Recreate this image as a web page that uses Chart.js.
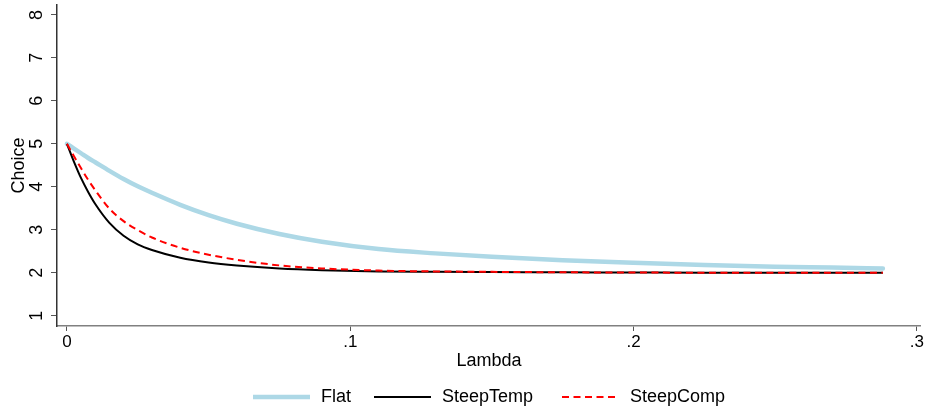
<!DOCTYPE html>
<html>
<head>
<meta charset="utf-8">
<script src="https://cdn.jsdelivr.net/npm/chart.js@4.4.1/dist/chart.umd.min.js"></script>
<style>
  html, body { margin: 0; padding: 0; background: #fff; }
  #wrap { width: 925px; height: 408px; position: relative; }
</style>
</head>
<body>
<div id="wrap"><canvas id="myChart"></canvas></div>
<script>
// lambda values (x) and the three choice curves
const lambda = [0, 0.0025, 0.005, 0.0075, 0.01, 0.015, 0.02, 0.025, 0.03, 0.04, 0.05, 0.06,
                0.075, 0.09, 0.11, 0.13, 0.15, 0.175, 0.2, 0.225, 0.25, 0.27, 0.288];
const flat = [5.00, 4.89, 4.78, 4.67, 4.57, 4.37, 4.18, 4.01, 3.86, 3.58, 3.34, 3.14,
              2.90, 2.72, 2.55, 2.45, 2.37, 2.29, 2.23, 2.18, 2.14, 2.12, 2.10];
const steepTemp = [5.00, 4.58, 4.20, 3.88, 3.60, 3.16, 2.86, 2.66, 2.53, 2.35, 2.24, 2.17,
                   2.10, 2.06, 2.03, 2.02, 2.015, 2.01, 2.005, 2.0, 2.0, 2.0, 2.0];
const steepComp = [5.00, 4.71, 4.43, 4.16, 3.92, 3.49, 3.20, 2.99, 2.82, 2.58, 2.42, 2.30,
                   2.17, 2.10, 2.05, 2.03, 2.02, 2.01, 2.005, 2.0, 2.0, 2.0, 2.0];
const seriesNames = ['Flat', 'SteepTemp', 'SteepComp'];
const xTicks = [0, 0.1, 0.2, 0.3];
const xTickLabels = ['0', '.1', '.2', '.3'];
const yTicks = [1, 2, 3, 4, 5, 6, 7, 8];

const FONT = '"Liberation Sans", Arial, sans-serif';

function pts(ys) {
    return lambda.map((x, i) => ({ x: x, y: ys[i] }));
}

// y tick labels are rotated, drawn here from the y scale
const rotatedYLabels = {
    id: 'rotatedYLabels',
    afterDraw(chart) {
        const c = chart.ctx;
        const ys = chart.scales.y;
        c.save();
        c.font = '18px ' + FONT;
        c.fillStyle = '#000';
        c.textAlign = 'center';
        c.textBaseline = 'middle';
        yTicks.forEach(v => {
            c.save();
            c.translate(37, ys.getPixelForValue(v));
            c.rotate(-Math.PI / 2);
            c.fillText(String(v), 0, 0);
            c.restore();
        });
        c.restore();
    }
};

// legend along the bottom, like the original
const bottomLegend = {
    id: 'bottomLegend',
    afterDraw(chart) {
        const c = chart.ctx;
        const y = 397;
        const lineX = [253, 374, 562];
        c.save();
        c.font = '18px ' + FONT;
        c.textBaseline = 'middle';
        c.textAlign = 'left';
        chart.data.datasets.forEach((ds, i) => {
            c.beginPath();
            c.strokeStyle = ds.borderColor;
            c.lineWidth = ds.borderWidth;
            c.setLineDash(ds.borderDash || []);
            c.moveTo(lineX[i], y);
            c.lineTo(lineX[i] + 57, y);
            c.stroke();
            c.setLineDash([]);
            c.fillStyle = '#000';
            c.fillText(ds.label, lineX[i] + 68, y);
        });
        c.restore();
    }
};

new Chart(document.getElementById('myChart'), {
    type: 'line',
    data: {
        datasets: [{
            label: seriesNames[0],
            data: pts(flat),
            borderColor: '#add8e6',
            borderWidth: 4.5,
            borderCapStyle: 'round',
            order: 3
        }, {
            label: seriesNames[1],
            data: pts(steepTemp),
            borderColor: '#000000',
            borderWidth: 2,
            order: 2
        }, {
            label: seriesNames[2],
            data: pts(steepComp),
            borderColor: '#ff0000',
            borderWidth: 2,
            borderDash: [7, 4.5],
            order: 1
        }]
    },
    options: {
        responsive: true,
        maintainAspectRatio: false,
        animation: false,
        devicePixelRatio: 1,
        elements: {
            point: { radius: 0 },
            line: { cubicInterpolationMode: 'monotone', fill: false }
        },
        layout: { padding: { left: 0, top: 5, right: 3, bottom: 0 } },
        plugins: {
            legend: { display: false },
            tooltip: { enabled: false }
        },
        scales: {
            x: {
                type: 'linear',
                min: -0.0035,
                max: 0.3014,
                afterBuildTicks: s => { s.ticks = xTicks.map(v => ({ value: v })); },
                afterFit: s => { s.height = 82; },
                grid: { drawOnChartArea: false, drawTicks: true, tickLength: 5, color: '#555' },
                border: { display: true, color: '#808080', width: 1.5 },
                ticks: {
                    padding: 1,
                    color: '#000',
                    font: { family: FONT, size: 17 },
                    maxRotation: 0,
                    callback: (v) => xTickLabels[xTicks.indexOf(v)]
                },
                title: {
                    display: true,
                    text: 'Lambda',
                    color: '#000',
                    font: { family: FONT, size: 18 },
                    padding: { top: 0, bottom: 36 }
                }
            },
            y: {
                min: 0.76,
                max: 8.23,
                afterBuildTicks: s => { s.ticks = yTicks.map(v => ({ value: v })); },
                afterFit: s => { s.width = 57; },
                grid: { drawOnChartArea: false, drawTicks: true, tickLength: 6, color: '#555' },
                border: { display: true, color: '#333', width: 1.5 },
                ticks: { display: false },
                title: {
                    display: true,
                    text: 'Choice',
                    color: '#000',
                    font: { family: FONT, size: 18 },
                    padding: { top: 8, bottom: 0 }
                }
            }
        }
    },
    plugins: [rotatedYLabels, bottomLegend]
});
</script>
</body>
</html>
